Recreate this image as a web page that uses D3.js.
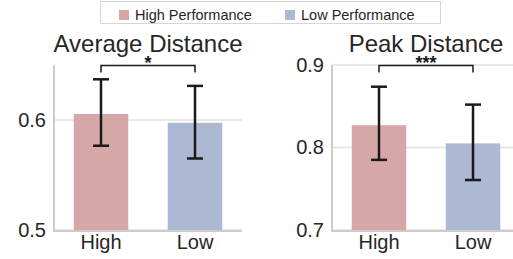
<!DOCTYPE html>
<html>
<head>
<meta charset="utf-8">
<script src="https://cdn.jsdelivr.net/npm/d3@7"></script>
<style>
  body { margin: 0; background: #fff; }
  svg { display: block; font-family: "Liberation Sans", Arial, sans-serif; }
</style>
</head>
<body>
<div id="chart"></div>
<script>
var groups = ["High", "Low"];
var legendLabels = ["High Performance", "Low Performance"];
var panelTitles = ["Average Distance", "Peak Distance"];
var meanValues = [[0.6055, 0.5975], [0.827, 0.805]];
var errLow = [[0.5766, 0.565], [0.785, 0.7606]];
var errHigh = [[0.637, 0.631], [0.8737, 0.852]];
var yDomains = [[0.5, 0.65], [0.7, 0.9]];
var yTicks = [[0.5, 0.6], [0.7, 0.8, 0.9]];
var sigLabels = ["*", "***"];

var colors = ["#d6a7a7", "#adb9d3"];
var width = 513, height = 259;

var svg = d3.select("#chart").append("svg")
    .attr("width", width)
    .attr("height", height);

var panelLeft = [54, 332];
var plotW = 188, plotTop = 65, plotBottom = 230;

panelTitles.forEach(function (title, p) {
    var g = svg.append("g").attr("transform", "translate(" + panelLeft[p] + ",0)");

    var x = d3.scaleBand().domain(groups).range([0, plotW]).paddingInner(0.42).paddingOuter(0.21);
    var y = d3.scaleLinear().domain(yDomains[p]).range([plotBottom, plotTop]);

    // gridlines
    g.selectAll(".grid").data(yTicks[p]).enter().append("line")
        .attr("x1", 0).attr("x2", plotW)
        .attr("y1", function (d) { return y(d); })
        .attr("y2", function (d) { return y(d); })
        .attr("stroke", "#e3e3e3").attr("stroke-width", 1.5);

    // bars
    g.selectAll(".bar").data(groups).enter().append("rect")
        .attr("x", function (d) { return x(d); })
        .attr("width", x.bandwidth())
        .attr("y", function (d, i) { return y(meanValues[p][i]); })
        .attr("height", function (d, i) { return plotBottom - y(meanValues[p][i]); })
        .attr("fill", function (d, i) { return colors[i]; });

    // error bars
    var capW = 8;
    groups.forEach(function (d, i) {
        var cx = x(d) + x.bandwidth() / 2;
        var e = g.append("g").attr("stroke", "#1a1a1a").attr("stroke-width", 2.5);
        e.append("line").attr("x1", cx).attr("x2", cx)
            .attr("y1", y(errLow[p][i])).attr("y2", y(errHigh[p][i]));
        e.append("line").attr("x1", cx - capW).attr("x2", cx + capW)
            .attr("y1", y(errLow[p][i])).attr("y2", y(errLow[p][i]));
        e.append("line").attr("x1", cx - capW).attr("x2", cx + capW)
            .attr("y1", y(errHigh[p][i])).attr("y2", y(errHigh[p][i]));
    });

    // axes
    var yAxis = g.append("g").call(d3.axisLeft(y).tickValues(yTicks[p]).tickSize(0).tickPadding(8).tickFormat(d3.format(".1f")));
    yAxis.select(".domain").remove();
    yAxis.selectAll("text").attr("font-size", 20).attr("fill", "#262626").attr("font-family", "Liberation Sans, Arial, sans-serif");

    var xAxis = g.append("g").attr("transform", "translate(0," + plotBottom + ")")
        .call(d3.axisBottom(x).tickSize(0).tickPadding(5));
    xAxis.select(".domain").remove();
    xAxis.selectAll("text").attr("font-size", 20).attr("fill", "#262626").attr("font-family", "Liberation Sans, Arial, sans-serif");

    g.append("line").attr("x1", 0).attr("x2", 0).attr("y1", plotTop).attr("y2", plotBottom + 1)
        .attr("stroke", "#cccccc").attr("stroke-width", 2);
    g.append("line").attr("x1", -1).attr("x2", plotW).attr("y1", plotBottom + 1).attr("y2", plotBottom + 1)
        .attr("stroke", "#cccccc").attr("stroke-width", 2);

    // significance bracket
    var x1 = x(groups[0]) + x.bandwidth() / 2, x2 = x(groups[1]) + x.bandwidth() / 2;
    var by = plotTop + 0.5;
    g.append("path")
        .attr("d", "M" + x1 + "," + (by + 7) + "V" + by + "H" + x2 + "V" + (by + 7))
        .attr("fill", "none").attr("stroke", "#1a1a1a").attr("stroke-width", 1.5);
    g.append("text").attr("x", (x1 + x2) / 2).attr("y", by + 3)
        .attr("text-anchor", "middle").attr("font-size", 18).attr("font-weight", "bold")
        .attr("fill", "#1a1a1a")
        .text(sigLabels[p]);

    // title
    g.append("text").attr("x", plotW / 2).attr("y", 52)
        .attr("text-anchor", "middle").attr("font-size", 24).attr("fill", "#262626")
        .text(title);
});

// legend
var leg = svg.append("g");
leg.append("rect").attr("x", 100.5).attr("y", 1.5).attr("width", 340).attr("height", 22)
    .attr("fill", "#fff").attr("stroke", "#d6d6d6").attr("stroke-width", 1);
var legX = [119, 285];
legendLabels.forEach(function (l, i) {
    leg.append("rect").attr("x", legX[i]).attr("y", 10).attr("width", 10).attr("height", 10)
        .attr("fill", colors[i]);
    leg.append("text").attr("x", legX[i] + 16).attr("y", 19.5)
        .attr("font-size", 14.5).attr("fill", "#262626").text(l);
});
</script>
</body>
</html>
